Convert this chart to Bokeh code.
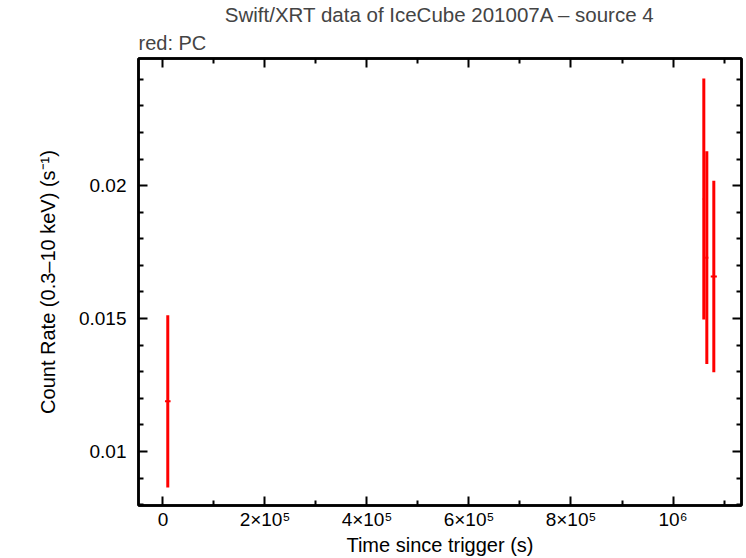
from bokeh.plotting import figure
from bokeh.models import (Range1d, LinearAxis, FixedTicker, CustomJSTickFormatter,
                          Title, ColumnDataSource)
from bokeh.embed import file_html
from bokeh.resources import INLINE

# ---- texts ----
title_text = "Swift/XRT data of IceCube 201007A \u2013 source 4"
subtitle_text = "red: PC"
x_label = "Time since trigger (s)"
y_label = "Count Rate (0.3\u201310 keV) (s\u207b\u00b9)"

# ---- data (PC mode) ----
time_s = [9400, 1060400, 1066300, 1080000]
time_err = [5500, 2000, 3000, 6000]
rate = [0.01189, 0.0195, 0.01729, 0.01658]
rate_err = [0.00324, 0.00453, 0.0040, 0.0036]

# ---- ticks ----
x_major_ticks = [0, 200000, 400000, 600000, 800000, 1000000]
x_major_labels = ["0", "2\u00d710\u2075", "4\u00d710\u2075", "6\u00d710\u2075", "8\u00d710\u2075", "10\u2076"]
x_minor_ticks = [100000, 300000, 500000, 700000, 900000, 1100000]
y_major_ticks = [0.01, 0.015, 0.02]
y_major_labels = ["0.01", "0.015", "0.02"]
y_minor_ticks = [0.008, 0.009, 0.011, 0.012, 0.013, 0.014, 0.016, 0.017,
                 0.018, 0.019, 0.021, 0.022, 0.023, 0.024]
x_limits = [-48000, 1134300]
y_limits = [0.007972, 0.02478]

FONT = "Liberation Sans"
RED = "#ff0000"

src = ColumnDataSource(dict(
    t=time_s,
    t_lo=[t - e for t, e in zip(time_s, time_err)],
    t_hi=[t + e for t, e in zip(time_s, time_err)],
    r=rate,
    r_lo=[r - e for r, e in zip(rate, rate_err)],
    r_hi=[r + e for r, e in zip(rate, rate_err)],
))

p = figure(width=746, height=558, output_backend="svg", toolbar_location=None,
           x_range=Range1d(*x_limits), y_range=Range1d(*y_limits),
           x_axis_location=None, y_axis_location=None,
           min_border_left=138, min_border_right=5, min_border_top=57,
           min_border_bottom=51)
p.xgrid.visible = False
p.ygrid.visible = False
p.background_fill_color = "white"
p.border_fill_color = "white"
p.outline_line_color = "black"
p.outline_line_width = 2.5

xt = FixedTicker(ticks=x_major_ticks, minor_ticks=x_minor_ticks)
yt = FixedTicker(ticks=y_major_ticks, minor_ticks=y_minor_ticks)
xfmt = CustomJSTickFormatter(args=dict(v=x_major_ticks, l=x_major_labels), code="""
    for (let i = 0; i < v.length; i++) { if (Math.abs(tick - v[i]) < 1) return l[i]; }
    return '';
""")
yfmt = CustomJSTickFormatter(args=dict(v=y_major_ticks, l=y_major_labels), code="""
    for (let i = 0; i < v.length; i++) { if (Math.abs(tick - v[i]) < 1e-9) return l[i]; }
    return '';
""")
blank = CustomJSTickFormatter(code="return '';")


def style(ax, labels):
    ax.axis_line_width = 2.5
    ax.major_tick_in = 9
    ax.major_tick_out = 0
    ax.minor_tick_in = 5
    ax.minor_tick_out = 0
    ax.major_tick_line_width = 2
    ax.minor_tick_line_width = 2
    if labels:
        ax.major_label_text_font = FONT
        ax.major_label_text_font_size = "19px"
        ax.major_label_text_color = "black"
        ax.axis_label_text_font = FONT
        ax.axis_label_text_font_size = "20px"
        ax.axis_label_text_font_style = "normal"
        ax.axis_label_text_color = "black"
    else:
        ax.major_label_standoff = 0


bottom = LinearAxis(ticker=xt, formatter=xfmt, axis_label=x_label)
style(bottom, True)
bottom.major_label_standoff = 3
bottom.axis_label_standoff = 1
left = LinearAxis(ticker=yt, formatter=yfmt, axis_label=y_label)
style(left, True)
left.major_label_standoff = 12
left.axis_label_standoff = 17
top = LinearAxis(ticker=xt, formatter=blank)
style(top, False)
right = LinearAxis(ticker=yt, formatter=blank)
style(right, False)

p.add_layout(bottom, "below")
p.add_layout(left, "left")
p.add_layout(top, "above")
p.add_layout(right, "right")

p.add_layout(Title(text=subtitle_text, align="left", text_font=FONT,
                   text_font_size="20px", text_font_style="normal",
                   standoff=9, offset=0), "above")
p.add_layout(Title(text=title_text, align="center", text_font=FONT,
                   text_font_size="20.5px", text_font_style="normal",
                   standoff=0, offset=0), "above")

p.segment(x0="t", y0="r_lo", x1="t", y1="r_hi", source=src,
          line_color=RED, line_width=3)
p.segment(x0="t_lo", y0="r", x1="t_hi", y1="r", source=src,
          line_color=RED, line_width=2)

open("out.html", "w").write(file_html(p, INLINE))
